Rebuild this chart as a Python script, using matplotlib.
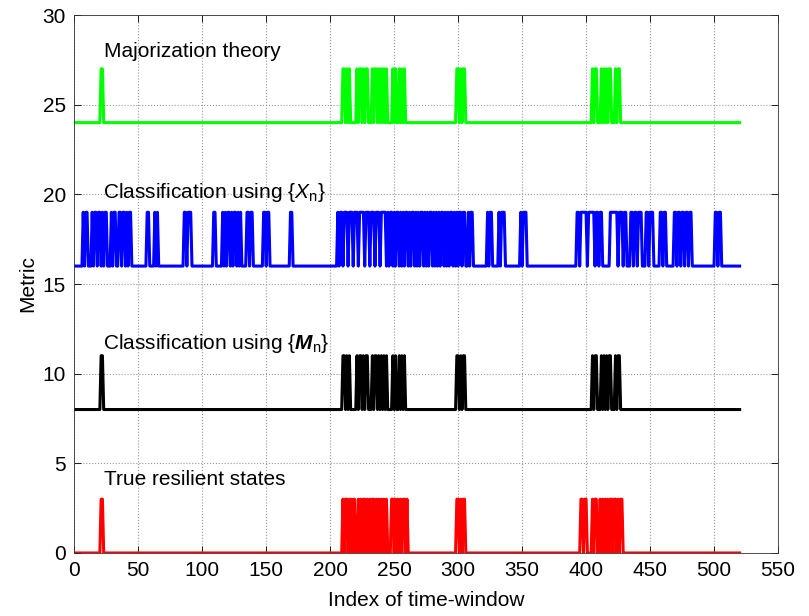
import numpy as np
import matplotlib
matplotlib.use("Agg")
import matplotlib.pyplot as plt

plt.rcParams['font.family'] = ['Liberation Sans', 'DejaVu Sans']
plt.rcParams['mathtext.fontset'] = 'custom'
plt.rcParams['mathtext.rm'] = 'Liberation Sans'
plt.rcParams['mathtext.it'] = 'Liberation Sans:italic'
plt.rcParams['mathtext.bf'] = 'Liberation Sans:bold'
plt.rcParams['mathtext.bfit'] = 'Liberation Sans:italic:bold'

# ---- data: time-window indices at which each binary indicator is high ----
n_windows = 520
true_states_on = [21, 22,
                  210, 212, 213, 215, 217, 219,
                  222, 224, 226, 227, 229, 231, 233, 234, 236, 238, 240, 242, 244,
                  248, 249, 251, 253, 255, 257, 258, 260,
                  299, 300, 302, 304, 305,
                  396, 397, 399, 400, 405, 407, 408, 411, 413, 415,
                  417, 419, 420, 422, 423, 425, 427, 428]
mn_class_on = [21, 22,
               210, 211, 213, 215,
               221, 223, 224, 226, 228, 229,
               233, 235, 236, 238, 240, 242, 244,
               249, 251, 254, 256, 258,
               299, 300, 302, 304, 305,
               405, 407, 408, 412, 414, 416, 418, 419, 423, 425, 426]
xn_class_on = [7, 9, 10,
               14, 16, 17, 19, 20, 22, 24, 25,
               29, 31, 32, 35, 36, 38, 39, 41, 43, 44,
               57, 58, 63, 65,
               86, 87, 89, 90, 91,
               109, 110, 116, 118, 120, 121, 123, 125, 126, 128, 130,
               135, 136, 138, 139, 148, 149, 151, 152, 169, 170,
               206, 208, 209, 211, 212, 213, 215, 216, 217, 219, 220, 221,
               223, 224, 225, 226, 228, 229, 230, 232, 233, 234, 236, 237,
               238, 240, 241, 242, 243, 245, 247, 248, 250, 252, 253, 255,
               257, 259, 260, 262, 264, 265, 267, 269, 271, 272, 274, 276,
               278, 279, 281, 283, 285, 287, 288, 290, 292, 294, 295, 297,
               299, 301, 302, 304, 305,
               308, 310, 311, 323, 325, 326, 332, 334, 335, 336,
               349, 351, 352, 353,
               393, 394, 396, 397, 398, 399, 400, 402, 403, 404, 405, 406,
               408, 409, 411, 412,
               419, 420, 421, 422, 423, 424, 426, 427, 428, 430, 431,
               435, 436, 438, 439, 441, 442, 443,
               447, 448, 450, 451, 452, 458, 459, 461, 462,
               469, 470, 472, 473, 475, 476, 478, 479, 481, 482,
               501, 502, 504, 505]
majorization_on = [21, 22,
                   210, 211, 213, 215,
                   221, 223, 224, 226, 228, 229,
                   233, 235, 236, 238, 240, 242, 244,
                   249, 251, 254, 256, 258,
                   299, 300, 302, 304, 305,
                   405, 407, 408, 412, 414, 416, 418, 419, 423, 425, 426]

series_labels = ["True resilient states",
                 r"Classification using {$\mathbfit{M}_{\mathrm{n}}$}",
                 r"Classification using {$\mathit{X}_{\mathrm{n}}$}",
                 "Majorization theory"]
series_offsets = [0, 8, 16, 24]
series_colors = ["#ff0000", "#000000", "#0000ff", "#00ff00"]
pulse_height = 3
x_ticks = list(range(0, 551, 50))
y_ticks = list(range(0, 31, 5))


def build(on_idx):
    y = np.zeros(n_windows + 1)
    y[np.asarray(on_idx)] = 1
    return y


fig = plt.figure(figsize=(8.09, 6.16), dpi=100)
ax = fig.add_axes([0.0918, 0.1023, 0.8699, 0.8733])

x = np.arange(0, n_windows + 1)
all_on = [true_states_on, mn_class_on, xn_class_on, majorization_on]
for on_idx, off, col in zip(all_on, series_offsets, series_colors):
    ax.plot(x, build(on_idx) * pulse_height + off, color=col, linewidth=2.2,
            solid_joinstyle='round')

label_pos = [(23, 4.1), (22.5, 11.7), (22.5, 20.1), (23, 27.95)]
for (tx, ty), lab in zip(label_pos, series_labels):
    ax.text(tx, ty, lab, fontsize=15, va='center', ha='left')

ax.set_xlim(0, 550)
ax.set_ylim(0, 30)
ax.set_xticks(x_ticks)
ax.set_yticks(y_ticks)
ax.tick_params(direction='in', top=True, right=True, labelsize=15, length=5,
               width=0.6, pad=6)
ax.grid(True, linestyle=':', color='#999999', linewidth=0.8)
for s in ax.spines.values():
    s.set_linewidth(0.6)
    s.set_color('#333333')
ax.set_xlabel("Index of time-window", fontsize=15, labelpad=8)
ax.set_ylabel("Metric", fontsize=15, labelpad=4)

fig.savefig("out.png", dpi=100)
